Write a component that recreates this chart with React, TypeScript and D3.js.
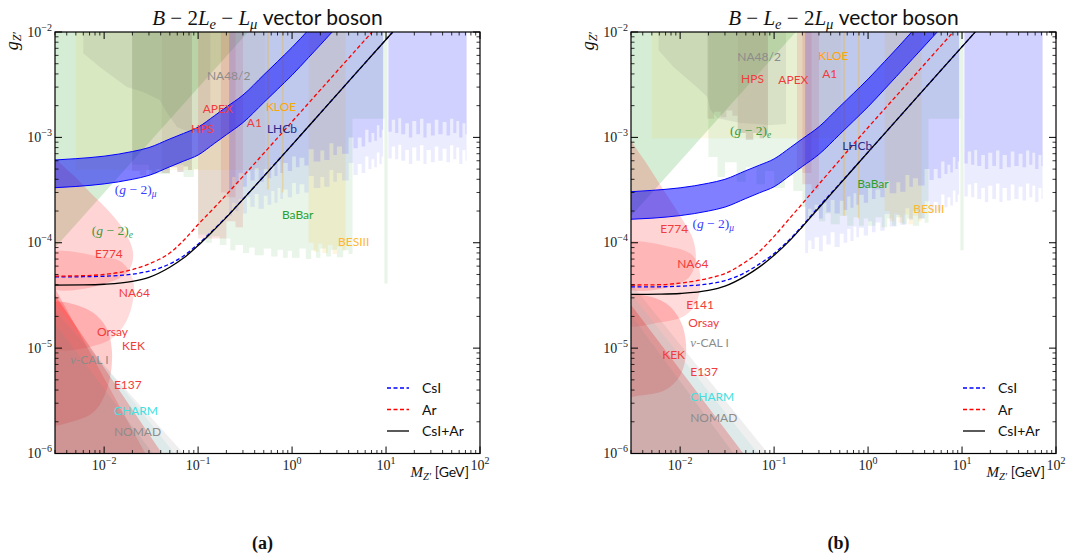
import * as React from "react";
import * as d3 from "d3";

type Pt = [number, number];

const SANS = "Lato, 'DejaVu Sans', sans-serif";
const SERIF = "'Liberation Serif', 'DejaVu Serif', serif";

const xDecades = [1e-2, 1e-1, 1, 10, 100];
const yDecades = [1e-6, 1e-5, 1e-4, 1e-3, 1e-2];
const legendKeys = ["CsI", "Ar", "CsI+Ar"];

// (g-2)_mu band
const g2muMassA = [0.003, 0.005, 0.01, 0.02, 0.03, 0.05, 0.07, 0.1, 0.15, 0.2, 0.3, 0.5, 0.7, 1, 1.5, 2, 3];
const g2muUpA = [6.1e-4, 6.28e-4, 6.63e-4, 7.34e-4, 8.0e-4, 9.66e-4, 1.09e-3, 1.25e-3, 1.61e-3, 1.94e-3, 2.52e-3, 3.92e-3, 5.24e-3, 7.15e-3, 1.05e-2, 1.39e-2, 2.1e-2];
const g2muLoA = [3.33e-4, 3.42e-4, 3.62e-4, 4.0e-4, 4.36e-4, 5.26e-4, 5.95e-4, 6.8e-4, 8.8e-4, 1.06e-3, 1.38e-3, 2.14e-3, 2.86e-3, 3.9e-3, 5.73e-3, 7.55e-3, 1.12e-2];
const g2muMassB = [0.003, 0.005, 0.01, 0.02, 0.03, 0.05, 0.07, 0.1, 0.15, 0.2, 0.3, 0.5, 0.7, 1, 1.5, 2, 3, 5, 6];
const g2muUpB = [3.05e-4, 3.14e-4, 3.32e-4, 3.67e-4, 4.0e-4, 4.83e-4, 5.45e-4, 6.25e-4, 8.05e-4, 9.7e-4, 1.26e-3, 1.96e-3, 2.62e-3, 3.58e-3, 5.25e-3, 6.9e-3, 1.03e-2, 1.7e-2, 2.05e-2];
const g2muLoB = [1.67e-4, 1.71e-4, 1.81e-4, 2.0e-4, 2.18e-4, 2.63e-4, 2.98e-4, 3.4e-4, 4.4e-4, 5.3e-4, 6.9e-4, 1.07e-3, 1.43e-3, 1.95e-3, 2.87e-3, 3.78e-3, 5.6e-3, 9.2e-3, 1.1e-2];

// sensitivity curves
const csiA: Pt[] = [[0.003, 4.74e-5], [0.006, 4.76e-5], [0.01, 4.81e-5], [0.02, 5.03e-5], [0.03, 5.37e-5], [0.05, 6.3e-5], [0.07, 7.5e-5], [0.1, 9.7e-5], [0.15, 1.36e-4], [0.2, 1.76e-4], [0.3, 2.59e-4], [0.5, 4.28e-4], [1, 8.5e-4], [2, 1.7e-3], [5, 4.25e-3], [11.8, 1e-2]];
const arA: Pt[] = [[0.003, 4.82e-5], [0.006, 4.87e-5], [0.01, 5.0e-5], [0.02, 5.57e-5], [0.03, 6.3e-5], [0.05, 8.0e-5], [0.07, 1.05e-4], [0.1, 1.49e-4], [0.15, 2.17e-4], [0.2, 2.86e-4], [0.3, 4.26e-4], [0.5, 7.07e-4], [1, 1.41e-3], [2, 2.82e-3], [5, 7.05e-3], [7.1, 1e-2]];
const csiArA: Pt[] = [[0.003, 3.96e-5], [0.006, 3.98e-5], [0.01, 4.04e-5], [0.02, 4.3e-5], [0.03, 4.7e-5], [0.05, 5.86e-5], [0.07, 7.15e-5], [0.1, 9.4e-5], [0.15, 1.34e-4], [0.2, 1.74e-4], [0.3, 2.58e-4], [0.5, 4.27e-4], [1, 8.5e-4], [2, 1.7e-3], [5, 4.25e-3], [11.8, 1e-2]];
const csiB: Pt[] = [[0.003, 3.81e-5], [0.006, 3.82e-5], [0.01, 3.87e-5], [0.02, 4.07e-5], [0.03, 4.37e-5], [0.05, 5.25e-5], [0.07, 6.3e-5], [0.1, 7.9e-5], [0.15, 1.1e-4], [0.2, 1.45e-4], [0.3, 2.2e-4], [0.5, 3.64e-4], [1, 7.25e-4], [2, 1.45e-3], [5, 3.63e-3], [13.8, 1e-2]];
const arB: Pt[] = [[0.003, 3.97e-5], [0.006, 4.0e-5], [0.01, 4.14e-5], [0.02, 4.6e-5], [0.03, 5.1e-5], [0.05, 6.6e-5], [0.07, 8.3e-5], [0.1, 1.15e-4], [0.15, 1.75e-4], [0.2, 2.35e-4], [0.3, 3.6e-4], [0.5, 6.1e-4], [1, 1.24e-3], [2, 2.48e-3], [5, 6.2e-3], [8.05, 1e-2]];
const csiArB: Pt[] = [[0.003, 3.23e-5], [0.006, 3.25e-5], [0.01, 3.3e-5], [0.02, 3.53e-5], [0.03, 3.88e-5], [0.05, 4.85e-5], [0.07, 5.9e-5], [0.1, 7.6e-5], [0.15, 1.07e-4], [0.2, 1.42e-4], [0.3, 2.15e-4], [0.5, 3.6e-4], [1, 7.25e-4], [2, 1.45e-3], [5, 3.63e-3], [13.8, 1e-2]];

// existing bounds, panel (a)
const g2eA: Pt[] = [[0.002, 1e-2], [0.34, 1e-2], [0.002, 6e-5]];
const kloeA: Pt[] = [[0.005, 4.9e-4], [0.52, 4.9e-4]];
const na48A: Pt[] = [[0.006, 1.2e-2], [0.135, 1.2e-2], [0.135, 1.22e-3], [0.118, 1.17e-3], [0.082, 1.12e-3], [0.06, 1.25e-3], [0.047, 1.7e-3], [0.039, 2.26e-3], [0.026, 2.69e-3], [0.0175, 3.0e-3], [0.009, 4.65e-3], [0.006, 6.3e-3]];
const hps1A: Pt[] = [[0.0198, 4.8e-4], [0.024, 4.4e-4], [0.028, 4.9e-4], [0.032, 4.5e-4], [0.036, 5.0e-4], [0.041, 5.0e-4]];
const hps2A: Pt[] = [[0.041, 4.6e-4], [0.05, 5.2e-4], [0.06, 4.7e-4], [0.07, 5.3e-4], [0.078, 4.9e-4], [0.086, 4.9e-4]];
const babarA: Pt[] = [[0.02, 5.5e-4], [0.03, 4.5e-4], [0.05, 5.5e-4], [0.07, 4.2e-4], [0.09, 5e-4], [0.1, 1.2e-4], [0.12, 1.0e-4], [0.14, 1.15e-4], [0.17, 9.5e-5], [0.2, 1.1e-4], [0.22, 8.5e-5], [0.25, 9.5e-5], [0.3, 8e-5], [0.35, 9e-5], [0.4, 7.6e-5], [0.5, 8.8e-5], [0.6, 7.4e-5], [0.7, 8.6e-5], [0.8, 7.2e-5], [0.9, 8.4e-5], [1.0, 7.2e-5], [1.2, 8.8e-5], [1.4, 7.0e-5], [1.6, 8.5e-5], [1.8, 7.2e-5], [2.0, 8.8e-5], [2.3, 7.4e-5], [2.6, 8.6e-5], [3.0, 7.3e-5], [3.5, 8.5e-5], [4.0, 7.8e-5], [4.4, 1.5e-3], [9.6, 4.1e-5], [10.4, 4.1e-5]];
const besA: Pt[] = [[1.5, 1.0e-4], [1.7, 8.2e-5], [1.9, 9.8e-5], [2.1, 8.0e-5], [2.4, 9.5e-5], [2.7, 7.8e-5], [3.0, 9.2e-5], [3.4, 8.5e-5], [3.7, 8.5e-5]];
const apexA: Pt[] = [[0.175, 3.0e-4], [0.2, 2.7e-4], [0.25, 2.7e-4]];
const a1A: Pt[] = [[0.1, 1.1e-4], [0.2, 1.6e-4], [0.25, 1.4e-4], [0.3, 1.4e-4]];
const lhcbLightA: Pt[] = [[0.214, 1.8e-4], [0.23, 2.4e-4], [0.25, 2.0e-4], [0.27, 2.6e-4], [0.3, 1.9e-4], [0.33, 2.7e-4], [0.36, 2.2e-4], [0.4, 2.9e-4], [0.44, 2.1e-4], [0.5, 2.8e-4], [0.55, 2.3e-4], [0.6, 3.1e-4], [0.65, 2.4e-4], [0.7, 3.3e-4], [0.75, 2.6e-4], [0.8, 3.2e-4], [0.9, 2.7e-4], [1.0, 3.7e-4], [1.1, 2.9e-4], [1.2, 3.6e-4], [1.35, 3.0e-4], [1.5, 4.3e-4], [1.7, 3.3e-4], [2.0, 4.2e-4], [2.2, 3.4e-4], [2.5, 4.9e-4], [2.75, 3.8e-4], [3.0, 4.6e-4], [3.4, 3.9e-4], [4.0, 5.7e-4], [4.5, 4.4e-4], [5.0, 5.6e-4], [5.5, 4.6e-4], [6.0, 6.6e-4], [6.5, 5.0e-4], [7.0, 6.2e-4], [7.5, 5.2e-4], [8.0, 7.2e-4], [8.5, 5.6e-4], [9.0, 6.6e-4], [9.3, 1e-2], [10.6, 6.3e-4], [11.5, 8.2e-4], [12.5, 6.2e-4], [13.5, 8.5e-4], [14.5, 6.0e-4], [16, 7.6e-4], [17.5, 5.6e-4], [19, 8.0e-4], [21, 6.0e-4], [23, 8.4e-4], [25, 5.6e-4], [27, 7.6e-4], [30, 5.8e-4], [33, 8.2e-4], [36, 6.0e-4], [40, 7.8e-4], [44, 5.8e-4], [48, 8.4e-4], [52, 6.2e-4], [56, 8.0e-4], [60, 5.6e-4], [65, 7.6e-4], [70, 6.0e-4], [72, 6.0e-4]];
const lhcbDarkA: Pt[] = [[0.214, 3.2e-4], [0.23, 4.2e-4], [0.25, 3.6e-4], [0.27, 4.6e-4], [0.3, 3.4e-4], [0.33, 4.8e-4], [0.36, 3.9e-4], [0.4, 5.1e-4], [0.44, 3.8e-4], [0.5, 5.0e-4], [0.55, 4.1e-4], [0.6, 5.5e-4], [0.65, 4.3e-4], [0.7, 5.9e-4], [0.75, 4.6e-4], [0.8, 5.7e-4], [0.9, 4.8e-4], [1.0, 6.6e-4], [1.1, 5.2e-4], [1.2, 6.4e-4], [1.35, 5.4e-4], [1.5, 7.7e-4], [1.7, 5.9e-4], [2.0, 7.5e-4], [2.2, 6.1e-4], [2.5, 8.8e-4], [2.75, 6.8e-4], [3.0, 8.2e-4], [3.4, 7.0e-4], [4.0, 1.0e-3], [4.5, 7.9e-4], [5.0, 1.0e-3], [5.5, 8.2e-4], [6.0, 1.18e-3], [6.5, 9.0e-4], [7.0, 1.1e-3], [7.5, 9.3e-4], [8.0, 1.3e-3], [8.5, 1.0e-3], [9.0, 1.18e-3], [9.3, 1e-2], [10.6, 1.13e-3], [11.5, 1.47e-3], [12.5, 1.1e-3], [13.5, 1.52e-3], [14.5, 1.07e-3], [16, 1.36e-3], [17.5, 1.0e-3], [19, 1.43e-3], [21, 1.07e-3], [23, 1.5e-3], [25, 1.0e-3], [27, 1.36e-3], [30, 1.04e-3], [33, 1.47e-3], [36, 1.07e-3], [40, 1.4e-3], [44, 1.04e-3], [48, 1.5e-3], [52, 1.1e-3], [56, 1.43e-3], [60, 1.0e-3], [65, 1.36e-3], [70, 1.07e-3], [72, 1.07e-3]];
const strip1A: Pt[] = [[0.54, 3.2e-4], [0.57, 3.2e-4]];
const strip2A: Pt[] = [[0.78, 3.0e-4], [0.81, 3.0e-4]];
const e774A: Pt[] = [[2.35e-3, 6.8e-4], [4.3e-3, 4.7e-4], [7.1e-3, 3.0e-4], [0.0115, 1.95e-4], [0.0167, 1.26e-4], [0.0203, 8.1e-5], [0.0188, 5.7e-5], [0.013, 4.4e-5], [2.35e-3, 3.95e-5]];
const na64A: Pt[] = [[2.35e-3, 7.6e-5], [9.0e-3, 7.4e-5], [0.0155, 6.5e-5], [0.0203, 4.4e-5], [0.0203, 2.85e-5], [0.0163, 1.65e-5], [0.0102, 1.14e-5], [2.35e-3, 1.06e-5]];
const orsayA: Pt[] = [[2.35e-3, 2.55e-5], [6.2e-3, 2.4e-5], [0.0102, 1.65e-5], [0.0121, 9.5e-6], [0.011, 4.4e-6], [8.0e-3, 2.55e-6], [4.9e-3, 2.05e-6], [2.35e-3, 1.95e-6]];
const kekA: Pt[] = [[2.35e-3, 5.5e-5], [0.031, 8.2e-7], [2.35e-3, 8.2e-7]];
const e137A: Pt[] = [[2.35e-3, 4.4e-5], [0.048, 8.2e-7], [2.35e-3, 8.2e-7]];
const nucalA: Pt[] = [[2.35e-3, 2.28e-5], [0.039, 8.2e-7], [2.35e-3, 8.2e-7]];
const charmA: Pt[] = [[2.35e-3, 3.54e-5], [0.067, 8.2e-7], [2.35e-3, 8.2e-7]];
const nomadA: Pt[] = [[2.35e-3, 2.84e-5], [0.086, 8.2e-7], [2.35e-3, 8.2e-7]];

// existing bounds, panel (b)
const g2eB: Pt[] = [[0.002, 1e-2], [0.17, 1e-2], [0.002, 1.2e-4]];
const kloeB: Pt[] = [[0.005, 9.8e-4], [0.52, 9.8e-4]];
const na48B: Pt[] = [[0.0059, 1.2e-2], [0.134, 1.2e-2], [0.134, 1.34e-3], [0.091, 1.31e-3], [0.044, 1.37e-3], [0.025, 1.52e-3], [0.021, 1.82e-3], [0.0195, 2.41e-3], [0.015, 3.0e-3], [0.0085, 4.65e-3], [0.0059, 6.7e-3]];
const hps1B: Pt[] = [[0.0195, 1.5e-3], [0.023, 1.75e-3], [0.027, 1.55e-3], [0.031, 1.8e-3], [0.036, 1.6e-3], [0.041, 1.6e-3]];
const hps2B: Pt[] = [[0.041, 1.1e-3], [0.05, 9.5e-4], [0.06, 1.1e-3], [0.07, 9.8e-4], [0.078, 1.05e-3], [0.086, 1.05e-3]];
const babarB: Pt[] = [[0.02, 6.5e-4], [0.025, 4.2e-4], [0.03, 5.8e-4], [0.04, 3.8e-4], [0.05, 5.2e-4], [0.065, 3.6e-4], [0.08, 4.8e-4], [0.1, 3.3e-4], [0.13, 4.3e-4], [0.16, 3.1e-4], [0.2, 2.2e-4], [0.22, 1.7e-4], [0.25, 2.0e-4], [0.3, 1.6e-4], [0.35, 1.9e-4], [0.4, 1.5e-4], [0.5, 1.8e-4], [0.6, 1.45e-4], [0.7, 1.75e-4], [0.8, 1.45e-4], [0.9, 1.7e-4], [1.0, 1.45e-4], [1.2, 1.75e-4], [1.4, 1.4e-4], [1.6, 1.7e-4], [1.8, 1.45e-4], [2.0, 1.75e-4], [2.3, 1.5e-4], [2.6, 1.7e-4], [3.0, 1.45e-4], [3.5, 1.7e-4], [4.0, 1.55e-4], [4.4, 1.5e-3], [9.6, 8.5e-5], [10.4, 8.5e-5]];
const besB: Pt[] = [[1.5, 2.0e-4], [1.7, 1.6e-4], [1.9, 1.9e-4], [2.1, 1.55e-4], [2.4, 1.85e-4], [2.7, 1.5e-4], [3.0, 1.8e-4], [3.4, 1.6e-4], [3.7, 1.6e-4]];
const apexB: Pt[] = [[0.175, 5.0e-4], [0.2, 4.6e-4], [0.25, 4.6e-4]];
const a1B: Pt[] = [[0.2, 3.6e-4], [0.25, 3.2e-4], [0.3, 3.2e-4]];
const lhcbLightB: Pt[] = [[0.214, 8e-5], [0.23, 1.05e-4], [0.25, 8.7e-5], [0.27, 1.13e-4], [0.3, 8.3e-5], [0.33, 1.17e-4], [0.36, 9.6e-5], [0.4, 1.26e-4], [0.44, 9.1e-5], [0.5, 1.22e-4], [0.55, 1.0e-4], [0.6, 1.35e-4], [0.65, 1.04e-4], [0.7, 1.43e-4], [0.75, 1.13e-4], [0.8, 1.39e-4], [0.9, 1.17e-4], [1.0, 1.6e-4], [1.1, 1.26e-4], [1.2, 1.56e-4], [1.35, 1.3e-4], [1.5, 1.87e-4], [1.7, 1.43e-4], [2.0, 1.83e-4], [2.2, 1.48e-4], [2.5, 2.13e-4], [2.75, 1.65e-4], [3.0, 2.0e-4], [3.4, 1.7e-4], [4.0, 2.48e-4], [4.5, 1.91e-4], [5.0, 2.43e-4], [5.5, 2.0e-4], [6.0, 2.87e-4], [6.5, 2.17e-4], [7.0, 2.7e-4], [7.5, 2.26e-4], [8.0, 3.13e-4], [8.5, 2.43e-4], [9.0, 2.87e-4], [9.3, 1e-2], [10.6, 2.74e-4], [11.5, 3.57e-4], [12.5, 2.7e-4], [13.5, 3.7e-4], [14.5, 2.6e-4], [16, 3.3e-4], [17.5, 2.43e-4], [19, 3.48e-4], [21, 2.6e-4], [23, 3.65e-4], [25, 2.43e-4], [27, 3.3e-4], [30, 2.52e-4], [33, 3.57e-4], [36, 2.6e-4], [40, 3.4e-4], [44, 2.52e-4], [48, 3.65e-4], [52, 2.7e-4], [56, 3.48e-4], [60, 2.43e-4], [65, 3.3e-4], [70, 2.6e-4], [72, 2.6e-4]];
const lhcbDarkB: Pt[] = [[0.214, 1.6e-4], [0.23, 2.1e-4], [0.25, 1.8e-4], [0.27, 2.3e-4], [0.3, 1.7e-4], [0.33, 2.4e-4], [0.36, 1.95e-4], [0.4, 2.55e-4], [0.44, 1.9e-4], [0.5, 2.5e-4], [0.55, 2.05e-4], [0.6, 2.75e-4], [0.65, 2.15e-4], [0.7, 2.95e-4], [0.75, 2.3e-4], [0.8, 2.85e-4], [0.9, 2.4e-4], [1.0, 3.3e-4], [1.1, 2.6e-4], [1.2, 3.2e-4], [1.35, 2.7e-4], [1.5, 3.85e-4], [1.7, 2.95e-4], [2.0, 3.75e-4], [2.2, 3.05e-4], [2.5, 4.4e-4], [2.75, 3.4e-4], [3.0, 4.1e-4], [3.4, 3.5e-4], [4.0, 5.0e-4], [4.5, 3.95e-4], [5.0, 5.0e-4], [5.5, 4.1e-4], [6.0, 5.9e-4], [6.5, 4.5e-4], [7.0, 5.5e-4], [7.5, 4.65e-4], [8.0, 6.5e-4], [8.5, 5.0e-4], [9.0, 5.9e-4], [9.3, 1e-2], [10.6, 5.65e-4], [11.5, 7.35e-4], [12.5, 5.5e-4], [13.5, 7.6e-4], [14.5, 5.35e-4], [16, 6.8e-4], [17.5, 5.0e-4], [19, 7.15e-4], [21, 5.35e-4], [23, 7.5e-4], [25, 5.0e-4], [27, 6.8e-4], [30, 5.2e-4], [33, 7.35e-4], [36, 5.35e-4], [40, 7.0e-4], [44, 5.2e-4], [48, 7.5e-4], [52, 5.5e-4], [56, 7.15e-4], [60, 5.0e-4], [65, 6.8e-4], [70, 5.35e-4], [72, 5.35e-4]];
const strip1B: Pt[] = [[0.54, 1.8e-4], [0.57, 1.8e-4]];
const strip2B: Pt[] = [[0.78, 1.7e-4], [0.81, 1.7e-4]];
const e774B: Pt[] = [[2.3e-3, 1.17e-3], [3.8e-3, 6.8e-4], [6.2e-3, 3.5e-4], [0.01, 1.8e-4], [0.0138, 1.06e-4], [0.0145, 6.5e-5], [0.0114, 4.4e-5], [2.3e-3, 3.95e-5]];
const na64B: Pt[] = [[2.3e-3, 9.5e-5], [7.9e-3, 9.1e-5], [0.0135, 7.6e-5], [0.0164, 4.9e-5], [0.0152, 2.85e-5], [0.0114, 2.05e-5], [6.2e-3, 1.76e-5], [2.3e-3, 1.72e-5]];
const kekB: Pt[] = [[2.3e-3, 2.97e-5], [6.2e-3, 2.84e-5], [0.01, 1.84e-5], [0.0116, 9.5e-6], [0.01, 5.5e-6], [6.95e-3, 4.0e-6], [3.8e-3, 3.55e-6], [2.3e-3, 3.55e-6]];
const e137B: Pt[] = [[2.3e-3, 3.54e-5], [0.0557, 8.2e-7], [2.3e-3, 8.2e-7]];
const nucalB: Pt[] = [[2.3e-3, 2.84e-5], [0.0437, 8.2e-7], [2.3e-3, 8.2e-7]];
const charmB: Pt[] = [[2.3e-3, 4.4e-5], [0.0805, 8.2e-7], [2.3e-3, 8.2e-7]];
const nomadB: Pt[] = [[2.3e-3, 5.5e-5], [0.103, 8.2e-7], [2.3e-3, 8.2e-7]];

// labels: text, mass, coupling, colour, kind
const RED = "#f03c3c";
const labelsA = [
  ["NA48/2", 0.124, 3.5e-3, "#8c8c8c", "s"], ["APEX", 0.112, 1.7e-3, RED, "s"], ["HPS", 0.084, 1.1e-3, RED, "s"],
  ["A1", 0.33, 1.25e-3, RED, "s"], ["KLOE", 0.527, 1.78e-3, "#ffa500", "s"], ["LHCb", 0.54, 1.1e-3, "#2a2a8a", "s"],
  ["μ", 0.013, 2.9e-4, "#3b3bff", "g2"], ["e", 7.4e-3, 1.18e-4, "#3c9a3c", "g2"], ["BaBar", 0.78, 1.67e-4, "#2ca02c", "s"],
  ["BESIII", 3.08, 9.3e-5, "#ffb732", "s"], ["E774", 8.0e-3, 7.1e-5, RED, "s"], ["NA64", 0.0143, 3.03e-5, RED, "s"],
  ["Orsay", 8.4e-3, 1.29e-5, RED, "s"], ["KEK", 0.0155, 9.5e-6, RED, "s"], ["-CAL I", 4.33e-3, 7.0e-6, "#8c8c8c", "nu"],
  ["E137", 0.0127, 4.06e-6, RED, "s"], ["CHARM", 0.0127, 2.3e-6, "#40e0e0", "s"], ["NOMAD", 0.0127, 1.45e-6, "#8c8c8c", "s"],
];
const labelsB = [
  ["NA48/2", 0.0406, 5.3e-3, "#8c8c8c", "s"], ["HPS", 0.0445, 3.27e-3, RED, "s"], ["APEX", 0.111, 3.2e-3, RED, "s"],
  ["A1", 0.325, 3.66e-3, RED, "s"], ["KLOE", 0.295, 5.42e-3, "#ffa500", "s"], ["e", 0.034, 1.05e-3, "#3c9a3c", "g2"],
  ["LHCb", 0.53, 7.6e-4, "#2a2a8a", "s"], ["BaBar", 0.766, 3.3e-4, "#2ca02c", "s"], ["BESIII", 3.02, 1.9e-4, "#ffb732", "s"],
  ["μ", 0.0135, 1.37e-4, "#3b3bff", "g2"], ["E774", 6.15e-3, 1.23e-4, RED, "s"], ["NA64", 9.3e-3, 5.73e-5, RED, "s"],
  ["E141", 0.0116, 2.33e-5, RED, "s"], ["Orsay", 0.0122, 1.57e-5, RED, "s"], ["-CAL I", 0.0128, 1.02e-5, "#8c8c8c", "nu"],
  ["KEK", 6.45e-3, 7.8e-6, RED, "s"], ["E137", 0.0128, 5.4e-6, RED, "s"], ["CHARM", 0.0128, 3.12e-6, "#40e0e0", "s"],
  ["NOMAD", 0.0128, 1.97e-6, "#8c8c8c", "s"],
];

const plotW = 425;
const plotH = 421.5;

type Region = { kind: "col" | "poly" | "blob"; pts: Pt[]; fill: string; op: number };

function regionsFor(s: any): Region[] {
  return [
    { kind: "poly", pts: s.g2e, fill: "#2ca02c", op: 0.2 },
    { kind: "col", pts: s.kloe, fill: "#ffc800", op: 0.09 },
    { kind: "poly", pts: s.na48, fill: "#7f7f7f", op: 0.14 },
    { kind: "col", pts: s.hps1, fill: "#8c564b", op: 0.14 },
    { kind: "col", pts: s.hps2, fill: "#8c564b", op: 0.21 },
    { kind: "col", pts: s.babar, fill: "#2ca02c", op: 0.11 },
    { kind: "col", pts: s.bes, fill: "#ffb000", op: 0.13 },
    { kind: "col", pts: s.apex, fill: "#d62728", op: 0.12 },
    { kind: "col", pts: s.a1, fill: "#d62728", op: 0.13 },
    { kind: "col", pts: s.lhcbLight, fill: "#5050ff", op: 0.11 },
    { kind: "col", pts: s.lhcbDark, fill: "#5050ff", op: 0.17 },
    { kind: "col", pts: s.strip1, fill: "#ffb000", op: 0.28 },
    { kind: "col", pts: s.strip2, fill: "#ffb000", op: 0.28 },
    { kind: "blob", pts: s.r1, fill: "#ff0000", op: 0.17 },
    { kind: "blob", pts: s.r2, fill: "#ff0000", op: 0.14 },
    { kind: "blob", pts: s.r3, fill: "#ff0000", op: 0.2 },
    { kind: "poly", pts: s.kek, fill: "#ff0000", op: 0.2 },
    { kind: "poly", pts: s.e137, fill: "#ff0000", op: 0.27 },
    { kind: "poly", pts: s.nucal, fill: "#808080", op: 0.14 },
    { kind: "poly", pts: s.charm, fill: "#48d1cc", op: 0.1 },
    { kind: "poly", pts: s.nomad, fill: "#808080", op: 0.13 },
  ].filter((r) => r.pts) as Region[];
}

function Sup({ e }: { e: number }) {
  const s = e < 0 ? `−${-e}` : `${e}`;
  return (
    <>
      10<tspan dy={-6} fontSize={10}>{s}</tspan>
    </>
  );
}

function Panel({ left, top, cfg, tag }: { left: number; top: number; cfg: any; tag: string }) {
  const x = d3.scaleLog().domain([3e-3, 100]).range([0, plotW]);
  const y = d3.scaleLog().domain([1e-6, 1e-2]).range([plotH, 0]);
  const X = (d: Pt) => x(d[0]);
  const Y = (d: Pt) => y(d[1]);
  const col = d3.area<Pt>().x(X).y0(y(2e-2)).y1(Y).curve(d3.curveStepAfter);
  const poly = d3.line<Pt>().x(X).y(Y);
  const blob = d3.line<Pt>().x(X).y(Y).curve(d3.curveCatmullRomClosed);
  const smooth = d3.line<Pt>().x(X).y(Y).curve(d3.curveMonotoneX);

  const bandIdx = d3.range(cfg.bandMass.length);
  const bandArea = d3
    .area<number>()
    .x((i) => x(cfg.bandMass[i]))
    .y0((i) => y(cfg.bandLo[i]))
    .y1((i) => y(cfg.bandUp[i]))
    .curve(d3.curveMonotoneX);
  const bandEdge = (arr: number[]) =>
    d3.line<number>().x((i) => x(cfg.bandMass[i])).y((i) => y(arr[i])).curve(d3.curveMonotoneX)(bandIdx) || "";

  const minorX = x.ticks().filter((t) => !xDecades.some((d) => Math.abs(d / t - 1) < 1e-6));
  const minorY = y.ticks().filter((t) => !yDecades.some((d) => Math.abs(d / t - 1) < 1e-6));
  const clipId = `clip-${tag}`;
  const regions = regionsFor(cfg.reg);

  const curves = [
    { pts: cfg.csi, color: "#0000ff", dash: "4,2.5" },
    { pts: cfg.ar, color: "#ff0000", dash: "4,2.5" },
    { pts: cfg.both, color: "#000000", dash: "" },
  ];

  return (
    <g transform={`translate(${left},${top})`}>
      <defs>
        <clipPath id={clipId}>
          <rect width={plotW} height={plotH} />
        </clipPath>
      </defs>
      <g clipPath={`url(#${clipId})`}>
        {regions.map((r, i) => (
          <path
            key={i}
            d={(r.kind === "col" ? col(r.pts) : r.kind === "blob" ? blob(r.pts) : poly(r.pts) + "Z") || ""}
            fill={r.fill}
            fillOpacity={r.op}
            stroke="none"
          />
        ))}
        <path d={bandArea(bandIdx) || ""} fill="#0000ff" fillOpacity={0.5} />
        <path d={bandEdge(cfg.bandUp)} fill="none" stroke="#0000ff" strokeWidth={1} />
        <path d={bandEdge(cfg.bandLo)} fill="none" stroke="#0000ff" strokeWidth={1} />
        {curves.map((c, i) => (
          <path key={i} d={smooth(c.pts) || ""} fill="none" stroke={c.color} strokeWidth={1.3} strokeDasharray={c.dash} />
        ))}
      </g>

      {cfg.labels.map((l: any, i: number) => {
        const px = x(l[1]);
        const py = y(l[2]);
        if (l[4] === "g2")
          return (
            <text key={i} x={px} y={py} fill={l[3]} fontFamily={SERIF} fontSize={13.5}>
              (<tspan fontStyle="italic">g</tspan> − 2)
              <tspan fontStyle="italic" fontSize={9.5} dy={3}>{l[0]}</tspan>
            </text>
          );
        if (l[4] === "nu")
          return (
            <text key={i} x={px} y={py} fill={l[3]} fontFamily={SANS} fontSize={12}>
              <tspan fontFamily={SERIF} fontStyle="italic" fontSize={13}>ν</tspan>
              {l[0]}
            </text>
          );
        return (
          <text key={i} x={px} y={py} fill={l[3]} fontFamily={SANS} fontSize={12}>
            {l[0]}
          </text>
        );
      })}

      {/* frame and ticks */}
      <rect width={plotW} height={plotH} fill="none" stroke="#000" strokeWidth={1.2} />
      {xDecades.map((t) => (
        <g key={`xM${t}`} stroke="#000" strokeWidth={1}>
          <line x1={x(t)} x2={x(t)} y1={plotH} y2={plotH - 7} />
          <line x1={x(t)} x2={x(t)} y1={0} y2={7} />
        </g>
      ))}
      {minorX.map((t) => (
        <g key={`xm${t}`} stroke="#000" strokeWidth={0.8}>
          <line x1={x(t)} x2={x(t)} y1={plotH} y2={plotH - 3.5} />
          <line x1={x(t)} x2={x(t)} y1={0} y2={3.5} />
        </g>
      ))}
      {yDecades.map((t) => (
        <g key={`yM${t}`} stroke="#000" strokeWidth={1}>
          <line x1={0} x2={7} y1={y(t)} y2={y(t)} />
          <line x1={plotW} x2={plotW - 7} y1={y(t)} y2={y(t)} />
        </g>
      ))}
      {minorY.map((t) => (
        <g key={`ym${t}`} stroke="#000" strokeWidth={0.8}>
          <line x1={0} x2={3.5} y1={y(t)} y2={y(t)} />
          <line x1={plotW} x2={plotW - 3.5} y1={y(t)} y2={y(t)} />
        </g>
      ))}
      {xDecades.map((t) => (
        <text key={`xl${t}`} x={x(t)} y={plotH + 16} textAnchor="middle" fontFamily={SERIF} fontSize={14} fill="#222">
          <Sup e={Math.round(Math.log10(t))} />
        </text>
      ))}
      {yDecades.map((t) => (
        <text key={`yl${t}`} x={-3} y={y(t) + 4.5} textAnchor="end" fontFamily={SERIF} fontSize={14} fill="#222">
          <Sup e={Math.round(Math.log10(t))} />
        </text>
      ))}

      {/* axis titles */}
      <text transform={`translate(-37,0) rotate(-90)`} textAnchor="end" fontFamily={SERIF} fontSize={18} fill="#111">
        <tspan fontStyle="italic">g</tspan>
        <tspan fontStyle="italic" fontSize={12} dy={3}>Z′</tspan>
      </text>
      <text x={plotW - 11} y={plotH + 23} textAnchor="end" fill="#111">
        <tspan fontFamily={SERIF} fontStyle="italic" fontSize={15}>M</tspan>
        <tspan fontFamily={SERIF} fontStyle="italic" fontSize={10.5} dy={3}>Z′</tspan>
        <tspan fontFamily={SANS} fontSize={14} dy={-3}> [GeV]</tspan>
      </text>

      {/* title */}
      <text x={plotW / 2} y={-7} textAnchor="middle" fill="#111" fontSize={21}>
        {cfg.title.map((p: any, i: number) => (
          <tspan key={i} fontFamily={p[1] === "sans" ? SANS : SERIF} fontStyle={p[1] === "it" || p[1] === "sub" ? "italic" : "normal"} fontSize={p[1] === "sub" ? 14.5 : 21} dy={p[2]}>
            {p[0]}
          </tspan>
        ))}
      </text>

      {/* legend */}
      {legendKeys.map((k, i) => (
        <g key={k} transform={`translate(332,${356 + i * 21.5})`}>
          <line x1={0} x2={22} stroke={curves[i].color} strokeWidth={1.3} strokeDasharray={curves[i].dash} />
          <text x={35} y={5} fontFamily={SANS} fontSize={14} fill="#111">
            {k}
          </text>
        </g>
      ))}

      <text x={plotW / 2 - 5} y={plotH + 95} textAnchor="middle" fontFamily={SERIF} fontWeight="bold" fontSize={18} fill="#111">
        {cfg.caption}
      </text>
    </g>
  );
}

const titleA = [["B", "it", 0], [" − 2", "rm", 0], ["L", "it", 0], ["e", "sub", 4], [" − ", "rm", -4], ["L", "it", 0], ["μ", "sub", 4], [" vector boson", "sans", -4]];
const titleB = [["B", "it", 0], [" − ", "rm", 0], ["L", "it", 0], ["e", "sub", 4], [" − 2", "rm", -4], ["L", "it", 0], ["μ", "sub", 4], [" vector boson", "sans", -4]];

export default function App() {
  const cfgA = {
    bandMass: g2muMassA, bandUp: g2muUpA, bandLo: g2muLoA,
    csi: csiA, ar: arA, both: csiArA, labels: labelsA, title: titleA, caption: "(a)",
    reg: { g2e: g2eA, kloe: kloeA, na48: na48A, hps1: hps1A, hps2: hps2A, babar: babarA, bes: besA, apex: apexA, a1: a1A,
      lhcbLight: lhcbLightA, lhcbDark: lhcbDarkA, strip1: strip1A, strip2: strip2A, r1: e774A, r2: na64A, r3: orsayA,
      kek: kekA, e137: e137A, nucal: nucalA, charm: charmA, nomad: nomadA },
  };
  const cfgB = {
    bandMass: g2muMassB, bandUp: g2muUpB, bandLo: g2muLoB,
    csi: csiB, ar: arB, both: csiArB, labels: labelsB, title: titleB, caption: "(b)",
    reg: { g2e: g2eB, kloe: kloeB, na48: na48B, hps1: hps1B, hps2: hps2B, babar: babarB, bes: besB, apex: apexB, a1: a1B,
      lhcbLight: lhcbLightB, lhcbDark: lhcbDarkB, strip1: strip1B, strip2: strip2B, r1: e774B, r2: na64B, r3: kekB,
      e137: e137B, nucal: nucalB, charm: charmB, nomad: nomadB },
  };
  return (
    <svg width={1072} height={557} style={{ position: "absolute", left: 0, top: 0, background: "#fff" }}>
      <Panel left={55} top={32} cfg={cfgA} tag="a" />
      <Panel left={631} top={32} cfg={cfgB} tag="b" />
    </svg>
  );
}
